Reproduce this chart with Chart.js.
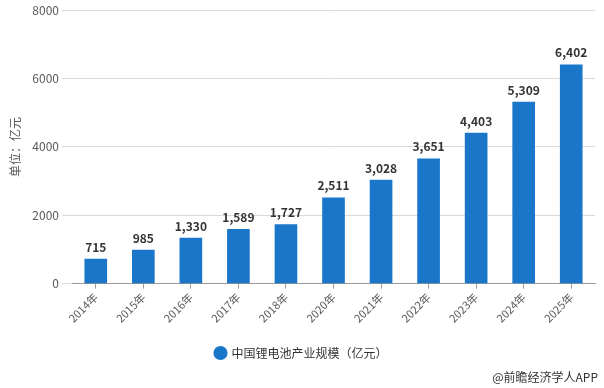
<!DOCTYPE html>
<html>
<head>
<meta charset="utf-8">
<script src="https://cdn.jsdelivr.net/npm/chart.js@4/dist/chart.umd.min.js"></script>
<style>
  html, body { margin: 0; padding: 0; background: #fff; }
  #wrap { width: 604px; height: 388px; position: relative; }
</style>
</head>
<body>
<div id="wrap"><canvas id="myChart"></canvas></div>
<script>
var years = ['2014年','2015年','2016年','2017年','2018年','2020年','2021年','2022年','2023年','2024年','2025年'];
var scale = [715, 985, 1330, 1589, 1727, 2511, 3028, 3651, 4403, 5309, 6402];
var seriesName = '中国锂电池产业规模（亿元）';
var axisTitle = '单位：亿元';
var source = '@前瞻经济学人APP';

var FONT = '"Noto Sans CJK SC", "Noto Sans", sans-serif';

// value labels above bars + source note
var labelPlugin = {
    id: 'labels',
    afterDatasetsDraw: function(chart) {
        var ctx = chart.ctx;
        var meta = chart.getDatasetMeta(0);
        ctx.save();
        ctx.font = 'bold 12px ' + FONT;
        ctx.fillStyle = '#333';
        ctx.textAlign = 'center';
        ctx.textBaseline = 'bottom';
        meta.data.forEach(function(bar, i) {
            ctx.fillText(scale[i].toLocaleString('en-US'), bar.x, bar.y - 6);
        });
        ctx.font = '12px ' + FONT;
        ctx.textAlign = 'right';
        ctx.textBaseline = 'middle';
        ctx.fillStyle = '#333';
        ctx.fillText(source, 598, 377);
        ctx.restore();
    }
};

var ctx = document.getElementById('myChart');
var myChart = new Chart(ctx, {
    type: 'bar',
    data: {
        labels: years,
        datasets: [{
            label: seriesName,
            data: scale,
            backgroundColor: '#1976C9',
            barThickness: 22
        }]
    },
    options: {
        responsive: true,
        maintainAspectRatio: false,
        animation: false,
        layout: { padding: { top: 8, right: 9, left: 8, bottom: 19 } },
        plugins: {
            legend: {
                position: 'bottom',
                labels: {
                    usePointStyle: true,
                    pointStyle: 'circle',
                    boxWidth: 10,
                    boxHeight: 10,
                    color: '#333',
                    font: { family: FONT, size: 12 },
                    padding: 20
                }
            },
            tooltip: { enabled: false }
        },
        scales: {
            x: {
                grid: { drawOnChartArea: false, offset: false, tickLength: 5, color: '#999' },
                border: { color: '#999' },
                ticks: { color: '#595959', font: { family: FONT, size: 11 }, maxRotation: 45, minRotation: 45, padding: 2 }
            },
            y: {
                min: 0,
                max: 8000,
                ticks: {
                    stepSize: 2000, color: '#595959', font: { family: FONT, size: 12 }, padding: 3,
                    callback: function(v) { return String(v); }
                },
                grid: { color: '#d9d9d9', tickLength: 10 },
                border: { display: false },
                title: { display: true, text: axisTitle, color: '#595959', font: { family: FONT, size: 12 }, padding: 0 },
                afterFit: function(s) { s.width = 64; }
            }
        }
    },
    plugins: [labelPlugin]
});
</script>
</body>
</html>
